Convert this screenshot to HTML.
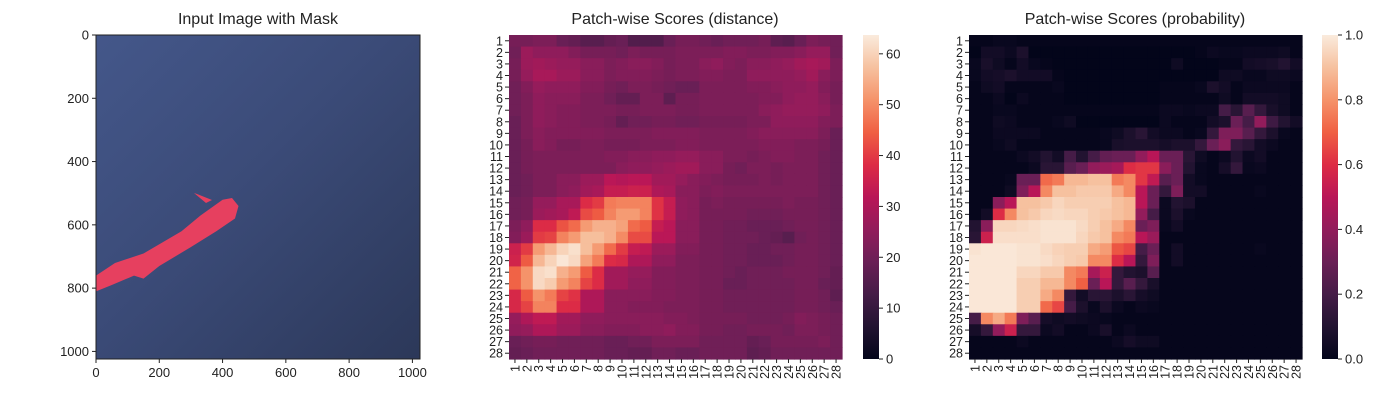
<!DOCTYPE html>
<html><head><meta charset="utf-8"><style>
body{margin:0;background:#fff;}
svg{display:block;font-family:"Liberation Sans",Arial,sans-serif;}
</style></head><body>
<svg id="fig" width="1400" height="400" viewBox="0 0 1400 400" xmlns="http://www.w3.org/2000/svg">
<defs>
<linearGradient id="bg" x1="0" y1="0" x2="1" y2="1">
<stop offset="0" stop-color="#44578a"/><stop offset="0.45" stop-color="#3b4b78"/><stop offset="1" stop-color="#2c3859"/>
</linearGradient>
<linearGradient id="rocket" x1="0" y1="1" x2="0" y2="0">
<stop offset="0" stop-color="#03051a"/><stop offset="0.1" stop-color="#221331"/><stop offset="0.2" stop-color="#451c47"/><stop offset="0.3" stop-color="#6a1f56"/><stop offset="0.4" stop-color="#921c5b"/><stop offset="0.5" stop-color="#b91657"/><stop offset="0.6" stop-color="#dd2c45"/><stop offset="0.7" stop-color="#f06043"/><stop offset="0.8" stop-color="#f5936a"/><stop offset="0.9" stop-color="#f6c19f"/><stop offset="1" stop-color="#faebdd"/>
</linearGradient>
</defs>
<text x="258" y="24" font-size="16" text-anchor="middle" fill="#222">Input Image with Mask</text>
<g>
<rect x="96" y="35" width="324" height="324" fill="url(#bg)"/>
<polygon fill="#e6405f" points="96,275.6 115,263 143.5,253.5 181.5,231.3 200.5,215.5 222.6,199.7 232,198 238.5,206 235,218.5 216.3,231.3 191,247 159.3,266 143.5,278.6 134,275.6 111.8,285 96,291.4"/>
<polygon fill="#e6405f" points="194,193 197,194 212,200 206,203"/>
<rect x="96" y="35" width="324" height="324" fill="none" stroke="#222" stroke-width="1"/>
</g>
<g id="imgaxes"></g>
<text x="675" y="24" font-size="16" text-anchor="middle" fill="#222">Patch-wise Scores (distance)</text>
<g id="h2"></g>
<text x="1135" y="24" font-size="16" text-anchor="middle" fill="#222">Patch-wise Scores (probability)</text>
<g id="h3"></g>
</svg>
<script>
const imgTicks=[0,200,400,600,800,1000];
const distVmax=63.7;
const distTicks=[0,10,20,30,40,50,60];
const probTicks=[0.0,0.2,0.4,0.6,0.8,1.0];
const distRows=[
[21,21,22,22,19,18,16,16,18,19,15,15,15,19,21,21,20,19,20,20,20,21,17,16,19,22,21,20],
[20,27,25,25,25,23,21,21,21,20,22,21,21,21,22,22,22,22,23,23,22,22,23,23,24,26,26,20],
[21,27,28,27,26,26,24,24,22,23,24,24,23,21,22,22,24,25,23,22,24,24,25,26,28,29,28,22],
[21,26,29,29,27,27,24,24,22,23,23,23,22,21,22,22,23,23,22,22,25,25,25,25,26,28,24,22],
[20,23,26,25,25,25,23,23,21,20,22,22,21,20,19,19,22,22,22,22,23,23,24,25,25,26,23,21],
[20,22,25,24,24,24,22,22,20,18,18,22,22,17,21,21,22,22,22,22,22,23,23,25,26,26,24,21],
[20,22,25,24,23,23,22,22,22,21,21,22,22,22,21,21,22,22,22,22,22,24,25,26,26,26,25,22],
[19,22,25,24,23,23,22,22,21,18,20,20,21,21,20,20,21,21,21,21,22,22,25,25,25,25,23,22],
[19,22,24,23,23,23,23,23,22,22,22,22,23,23,23,23,22,22,22,22,23,24,24,24,24,24,22,19],
[19,21,24,23,21,21,22,22,21,21,21,22,22,22,23,23,22,22,22,22,22,23,23,23,22,22,21,19],
[19,21,22,22,22,22,22,22,23,23,24,24,25,25,26,26,24,24,22,22,21,22,23,23,22,22,20,19],
[19,21,22,22,22,22,22,22,22,24,25,25,26,27,28,28,24,24,21,20,22,22,21,22,22,22,20,19],
[19,20,22,22,24,24,27,27,32,31,32,32,28,28,26,24,23,22,21,21,21,22,21,22,22,22,20,19],
[19,20,22,22,24,25,28,29,34,34,35,35,30,29,24,24,22,23,22,22,22,22,22,22,22,22,20,19],
[20,21,26,26,29,29,38,40,48,49,49,49,39,34,25,24,21,22,21,21,21,21,21,22,21,21,20,19],
[20,21,27,28,29,33,42,44,49,52,52,49,39,34,25,24,21,21,21,21,20,20,20,21,21,21,20,19],
[22,25,38,38,43,46,52,55,55,53,46,44,34,32,24,24,21,21,20,20,19,19,19,20,21,21,20,19],
[23,27,40,41,49,52,57,57,55,50,42,42,32,32,24,24,21,21,20,20,20,19,18,16,20,21,20,19],
[35,40,52,56,60,62,57,52,46,40,34,33,27,27,23,23,21,21,20,20,19,19,20,20,21,21,20,19],
[36,44,56,60,63,61,53,48,38,37,30,30,25,25,22,22,21,21,20,20,19,19,19,20,21,21,20,19],
[45,51,61,62,55,52,44,38,28,28,26,26,23,23,22,22,21,21,20,19,20,20,20,21,21,21,20,18],
[45,51,61,59,52,49,41,38,28,28,25,25,23,23,22,22,21,21,19,19,20,20,20,20,21,21,19,18],
[37,44,51,48,41,39,30,30,24,24,24,24,23,23,22,22,21,21,20,20,20,20,20,20,21,21,20,17],
[37,41,49,49,38,38,30,30,24,24,23,23,23,22,22,22,21,21,20,20,20,20,20,20,21,21,20,19],
[26,30,33,33,28,28,25,25,24,24,24,24,24,23,23,22,21,21,21,21,20,20,20,21,23,22,21,20],
[25,26,30,30,27,27,24,24,23,23,23,24,24,25,23,23,21,21,20,20,21,21,21,20,22,22,21,20],
[19,20,21,21,20,20,20,20,19,19,20,20,22,22,22,22,20,20,20,20,18,19,21,21,21,21,22,20],
[18,19,20,20,20,20,20,20,19,19,18,18,20,20,19,19,20,20,20,20,17,18,20,20,20,20,20,20]];
const probRows=[
[0.01,0.01,0.02,0.02,0.01,0.01,0.01,0.01,0.01,0.01,0.01,0.01,0.01,0.01,0.01,0.01,0.01,0.01,0.01,0.01,0.01,0.01,0.01,0.01,0.01,0.01,0.01,0.01],
[0,0.05,0.05,0.03,0.08,0,0,0,0,0,0,0,0,0,0,0,0,0,0,0.01,0.03,0.02,0.02,0.03,0.03,0.03,0.04,0.01],
[0.02,0.07,0.04,0.01,0.05,0.02,0.01,0,0,0,0,0,0,0,0,0,0,0.04,0,0,0,0.01,0.01,0.05,0.06,0.07,0.1,0.05],
[0.02,0.05,0.06,0.08,0.05,0.05,0.05,0.01,0,0,0,0,0,0,0,0,0,0,0,0,0,0.04,0.04,0.02,0.02,0.04,0.04,0.03],
[0.01,0.04,0.05,0.01,0.01,0.01,0.01,0.02,0,0,0,0,0,0,0,0,0.01,0.01,0.01,0.02,0.08,0.05,0.01,0.03,0.03,0.03,0.03,0.01],
[0.01,0.01,0.03,0,0.03,0.01,0.01,0.01,0,0,0,0,0,0,0,0,0.01,0.01,0.01,0.01,0.01,0.04,0.01,0.05,0.05,0.05,0.04,0.01],
[0.01,0.01,0.02,0.02,0.01,0.01,0.01,0.01,0.01,0.01,0.01,0.01,0.01,0.01,0.01,0.01,0.03,0.03,0.02,0.03,0.03,0.2,0.12,0.25,0.15,0.07,0.04,0.01],
[0.01,0.01,0.04,0.03,0.01,0.01,0.01,0.02,0.04,0,0,0,0,0,0,0,0.03,0.01,0.01,0.01,0.05,0.08,0.3,0.2,0.4,0.18,0.1,0.05],
[0.01,0.01,0.03,0.03,0.03,0.03,0.01,0.01,0.01,0.01,0.01,0.02,0.04,0.08,0.12,0.05,0.03,0.03,0.01,0.02,0.15,0.35,0.35,0.25,0.15,0.08,0.02,0.01],
[0.01,0.01,0.02,0.04,0.01,0.01,0.01,0.01,0.01,0.01,0.01,0.02,0.07,0.08,0.08,0.08,0.06,0.08,0.08,0.15,0.3,0.38,0.15,0.12,0.05,0.03,0.01,0.01],
[0.01,0.01,0.01,0.01,0.03,0.05,0.1,0.05,0.2,0.1,0.2,0.28,0.3,0.3,0.4,0.5,0.3,0.3,0.12,0.04,0.01,0.03,0.1,0.03,0.05,0.01,0.01,0.01],
[0.01,0.01,0.01,0.01,0.01,0.03,0.12,0.12,0.25,0.3,0.4,0.42,0.45,0.6,0.62,0.62,0.38,0.3,0.1,0.02,0.01,0.06,0.15,0.02,0.03,0.01,0.01,0.01],
[0.01,0.01,0.01,0.02,0.3,0.3,0.72,0.75,0.88,0.88,0.9,0.9,0.75,0.78,0.62,0.52,0.25,0.3,0.05,0.02,0.01,0.01,0.01,0.01,0.01,0.01,0.01,0.01],
[0.01,0.01,0.01,0.04,0.35,0.5,0.78,0.9,0.9,0.92,0.92,0.92,0.85,0.78,0.5,0.3,0.15,0.35,0.05,0.05,0.01,0.01,0.01,0.01,0.02,0.01,0.01,0.01],
[0.01,0.01,0.38,0.5,0.9,0.9,0.92,0.95,0.93,0.93,0.93,0.93,0.9,0.88,0.5,0.3,0.03,0.1,0.08,0.01,0.01,0.01,0.01,0.01,0.01,0.01,0.01,0.01],
[0.01,0.05,0.6,0.78,0.9,0.92,0.95,0.96,0.95,0.95,0.93,0.92,0.9,0.88,0.4,0.2,0.03,0.08,0.02,0.01,0.01,0.01,0.01,0.01,0.01,0.01,0.01,0.01],
[0.1,0.38,0.95,0.95,0.96,0.97,0.98,0.98,0.98,0.96,0.93,0.9,0.85,0.78,0.3,0.35,0.02,0.05,0.01,0.01,0.01,0.01,0.01,0.01,0.01,0.01,0.01,0.01],
[0.12,0.55,0.97,0.97,0.97,0.97,0.98,0.98,0.98,0.95,0.92,0.9,0.78,0.75,0.5,0.42,0.01,0.01,0.01,0.01,0.01,0.01,0.01,0.01,0.01,0.01,0.01,0.01],
[0.98,0.99,0.99,0.99,0.98,0.98,0.96,0.94,0.93,0.93,0.85,0.82,0.68,0.65,0.2,0.3,0.01,0.05,0.01,0.01,0.01,0.01,0.01,0.01,0.02,0.01,0.01,0.01],
[0.99,0.99,0.99,0.99,0.98,0.98,0.97,0.95,0.93,0.92,0.78,0.78,0.6,0.5,0.15,0.35,0.01,0.05,0.01,0.01,0.01,0.01,0.01,0.01,0.01,0.01,0.01,0.01],
[0.99,0.99,0.99,0.99,0.95,0.95,0.92,0.92,0.78,0.75,0.45,0.55,0.15,0.1,0.08,0.25,0.01,0.01,0.01,0.01,0.01,0.01,0.01,0.01,0.01,0.01,0.01,0.01],
[0.99,0.99,0.99,0.99,0.93,0.93,0.88,0.88,0.78,0.7,0.3,0.5,0.15,0.25,0.15,0.07,0.01,0.01,0.01,0.01,0.01,0.01,0.01,0.01,0.01,0.01,0.01,0.01],
[0.99,0.99,0.99,0.99,0.93,0.93,0.85,0.78,0.15,0.05,0.12,0.12,0.08,0.12,0.06,0.04,0.01,0.01,0.01,0.01,0.01,0.01,0.01,0.01,0.01,0.01,0.01,0.01],
[0.99,0.99,0.99,0.99,0.93,0.93,0.72,0.65,0.2,0.08,0.02,0.08,0.03,0.01,0.03,0.02,0.01,0.01,0.01,0.01,0.01,0.01,0.01,0.01,0.01,0.01,0.01,0.01],
[0.2,0.78,0.85,0.75,0.35,0.25,0.06,0.04,0.05,0.04,0.03,0.02,0.01,0.01,0.01,0.01,0.01,0.01,0.01,0.01,0.01,0.01,0.01,0.01,0.01,0.01,0.01,0.01],
[0.06,0.15,0.4,0.55,0.15,0.15,0.03,0.05,0.01,0.01,0.03,0.07,0.01,0.03,0.01,0.01,0.01,0.01,0.01,0.01,0.01,0.01,0.01,0.01,0.01,0.01,0.01,0.01],
[0.01,0.01,0.01,0.01,0.03,0.01,0.01,0.01,0.01,0.01,0.01,0.01,0.03,0.06,0.04,0.04,0.01,0.01,0.01,0.01,0.01,0.01,0.01,0.01,0.01,0.01,0.01,0.01],
[0.01,0.01,0.01,0.01,0.01,0.01,0.01,0.01,0.01,0.01,0.01,0.01,0.01,0.01,0.01,0.01,0.01,0.01,0.01,0.01,0.01,0.01,0.01,0.01,0.01,0.01,0.01,0.01]];

const NS="http://www.w3.org/2000/svg";
const stops=[[0,3,5,26],[0.1,34,19,49],[0.2,69,28,71],[0.3,106,31,86],[0.4,146,28,91],[0.5,185,22,87],[0.6,221,44,69],[0.7,240,96,67],[0.8,245,147,106],[0.9,246,193,159],[1,250,235,221]];
function cmap(t){t=Math.max(0,Math.min(1,t));for(let i=1;i<stops.length;i++){if(t<=stops[i][0]){const a=stops[i-1],b=stops[i],f=(t-a[0])/(b[0]-a[0]);return `rgb(${Math.round(a[1]+f*(b[1]-a[1]))},${Math.round(a[2]+f*(b[2]-a[2]))},${Math.round(a[3]+f*(b[3]-a[3]))})`;}}return "rgb(250,235,221)";}
function mk(tag,attrs,parent){const e=document.createElementNS(NS,tag);for(const k in attrs)e.setAttribute(k,attrs[k]);parent.appendChild(e);return e;}

const ia=document.getElementById('imgaxes');
const ix=v=>96+v*324/1024, iy=v=>35+v*324/1024;
imgTicks.forEach(v=>{
  mk('line',{x1:ix(v),x2:ix(v),y1:359,y2:363,stroke:'#222'},ia);
  const t=mk('text',{x:ix(v),y:377,'font-size':13,'text-anchor':'middle',fill:'#222'},ia);t.textContent=v;
  
  
  mk('line',{x1:92,x2:96,y1:iy(v),y2:iy(v),stroke:'#222'},ia);
  const u=mk('text',{x:89,y:iy(v)+4.5,'font-size':13,'text-anchor':'end',fill:'#222'},ia);u.textContent=v;
  
  
});

function heatmap(g,rows,x0,x1,vmax,cb0,ticks,fmt,prefix){
  const y0=35,y1=359,n=rows.length,m=rows[0].length;
  const cw=(x1-x0)/m, ch=(y1-y0)/n;
  const xs=j=>x0+j*cw, ys=i=>y0+i*ch;
  rows.forEach((row,i)=>row.forEach((v,j)=>{
    const r=mk('rect',{x:xs(j),y:ys(i),width:cw+0.6,height:ch+0.6,fill:cmap(v/vmax)},g);
    
    
  }));
  for(let i=0;i<n;i++){
    const yc=ys(i)+ch/2;
    mk('line',{x1:x0-4,x2:x0,y1:yc,y2:yc,stroke:'#222'},g);
    const t=mk('text',{x:x0-6,y:yc+4.5,'font-size':12.5,'text-anchor':'end',fill:'#222'},g);t.textContent=i+1;
    
    
  }
  for(let j=0;j<m;j++){
    const xc=xs(j)+cw/2;
    mk('line',{x1:xc,x2:xc,y1:y1,y2:y1+4,stroke:'#222'},g);
    const t=mk('text',{x:0,y:0,'font-size':12.5,'text-anchor':'end',fill:'#222',transform:`translate(${xc+4.5},${y1+6}) rotate(-90)`},g);t.textContent=j+1;
    
    
  }
  const cbw=16;
  const cb=mk('rect',{x:cb0,y:y0,width:cbw,height:y1-y0,fill:'url(#rocket)'},g);
  
  
  ticks.forEach(v=>{
    const yy=y1-(v/vmax)*(y1-y0);
    mk('line',{x1:cb0+cbw,x2:cb0+cbw+4,y1:yy,y2:yy,stroke:'#222'},g);
    const t=mk('text',{x:cb0+cbw+7,y:yy+4.5,'font-size':13,fill:'#222'},g);t.textContent=fmt(v);
    
    
  });
}
heatmap(document.getElementById('h2'),distRows,509,842,distVmax,863,distTicks,v=>String(v),'distance');
heatmap(document.getElementById('h3'),probRows,969,1302,1.0,1322,probTicks,v=>v.toFixed(1),'probability');
</script>
</body></html>
